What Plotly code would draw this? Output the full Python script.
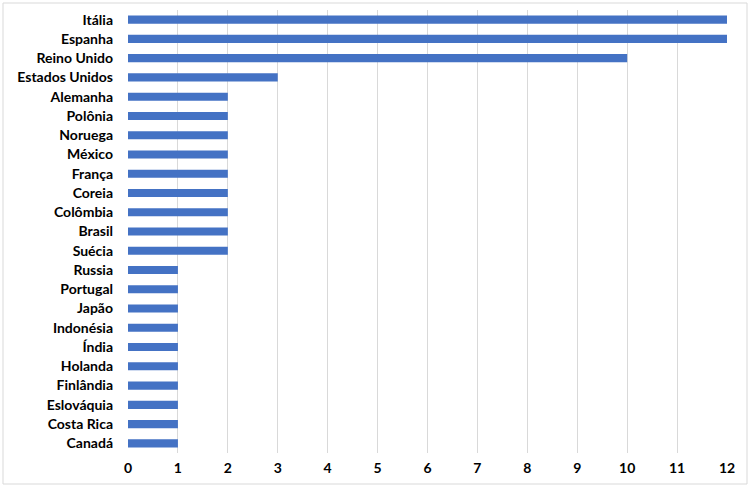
import plotly.graph_objects as go

categories = ["Itália", "Espanha", "Reino Unido", "Estados Unidos", "Alemanha", "Polônia",
              "Noruega", "México", "França", "Coreia", "Colômbia", "Brasil", "Suécia",
              "Russia", "Portugal", "Japão", "Indonésia", "Índia", "Holanda", "Finlândia",
              "Eslováquia", "Costa Rica", "Canadá"]
values = [12, 12, 10, 3, 2, 2, 2, 2, 2, 2, 2, 2, 2, 1, 1, 1, 1, 1, 1, 1, 1, 1, 1]
x_ticks = list(range(0, 13))

W, H = 750, 487
L, R, T, B = 128, 23, 10, 34
pw, ph = W - L - R, H - T - B

def px(x):
    return (x - L) / pw

def py(y):
    return (H - B - y) / ph

fig = go.Figure(go.Bar(
    x=values, y=categories, orientation="h",
    marker=dict(color="#4472C4", line=dict(width=0)),
    width=0.42,
))

tf = dict(family="Lato, Open Sans, sans-serif", size=14, color="#000000", weight="bold")

fig.update_layout(
    width=W, height=H,
    margin=dict(l=L, r=R, t=T, b=B, autoexpand=False),
    paper_bgcolor="white", plot_bgcolor="white",
    font=dict(family="Lato, Open Sans, sans-serif", size=14, color="#000000"),
    showlegend=False,
    xaxis=dict(range=[0, 12], tickvals=x_ticks, showgrid=True, gridcolor="#D9D9D9",
               gridwidth=1, zeroline=False, showline=False, ticks="",
               tickfont=tf, ticklabelstandoff=5, fixedrange=True),
    yaxis=dict(categoryorder="array", categoryarray=categories[::-1], autorange=False,
               range=[-0.5, len(categories) - 0.5],
               showgrid=False, zeroline=False, showline=False, ticks="",
               tickfont=tf, ticklabelstandoff=14),
    shapes=[dict(type="rect", xref="paper", yref="paper",
                 x0=px(3), x1=px(747), y0=py(484), y1=py(3),
                 line=dict(color="#D9D9D9", width=1), fillcolor="rgba(0,0,0,0)", layer="below")],
    bargap=0.5,
)

fig.write_html("out.html", config={"displayModeBar": False},
               post_script="document.body.style.margin='0';document.body.style.padding='0';")
